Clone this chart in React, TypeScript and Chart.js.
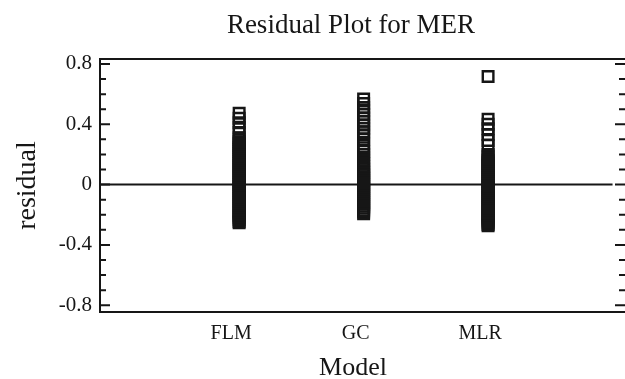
import React, { useEffect, useRef } from "react";
import { Chart, registerables } from "chart.js";

Chart.register(...registerables);

const TITLE = "Residual Plot for MER";
const X_TITLE = "Model";
const Y_TITLE = "residual";
const CATEGORIES = ["FLM", "GC", "MLR"];

const FLM_RESIDUALS = [
  0.473, 0.44, 0.41, 0.38, 0.345, 0.31,
  0.297, 0.284, 0.271, 0.259, 0.246, 0.232, 0.219, 0.207, 0.194, 0.181, 0.168, 0.155,
  0.142, 0.129, 0.117, 0.104, 0.091, 0.078, 0.065, 0.052, 0.039, 0.026, 0.013, 0.001,
  -0.012, -0.025, -0.038, -0.051, -0.064, -0.077, -0.09, -0.103, -0.116, -0.129, -0.142,
  -0.155, -0.168, -0.181, -0.194, -0.207, -0.22, -0.233, -0.244, -0.253,
];
const GC_RESIDUALS = [
  0.567, 0.538, 0.512, 0.488, 0.465, 0.442, 0.42, 0.396, 0.374, 0.35, 0.33, 0.3, 0.27,
  0.245, 0.22, 0.2, 0.18, 0.16, 0.14, 0.12,
  0.104, 0.091, 0.078, 0.065, 0.052, 0.039, 0.026, 0.013, 0.0, -0.013, -0.026, -0.039,
  -0.052, -0.065, -0.078, -0.091, -0.104, -0.117, -0.13, -0.143, -0.156, -0.169, -0.181, -0.193,
];
const MLR_RESIDUALS = [
  0.717, 0.433, 0.4, 0.37, 0.333, 0.293, 0.26, 0.2,
  0.188, 0.175, 0.162, 0.149, 0.136, 0.123, 0.11, 0.097, 0.084, 0.071, 0.058, 0.045,
  0.032, 0.019, 0.006, -0.007, -0.02, -0.033, -0.046, -0.059, -0.072, -0.085, -0.098,
  -0.111, -0.124, -0.137, -0.15, -0.163, -0.176, -0.189, -0.202, -0.215, -0.228, -0.241,
  -0.254, -0.265, -0.273,
];
const SERIES = [FLM_RESIDUALS, GC_RESIDUALS, MLR_RESIDUALS];

const Y_MAJOR_TICKS = [-0.8, -0.4, 0, 0.4, 0.8];
const Y_MINOR_TICKS = [-0.7, -0.6, -0.5, -0.3, -0.2, -0.1, 0.1, 0.2, 0.3, 0.5, 0.6, 0.7];
const ZERO_LINE_X = [-0.118, 4.0];

const INK = "#161616";
const FONT = '"Liberation Serif", "Times New Roman", serif';

const framePlugin = {
  id: "frame",
  afterDraw(chart: any) {
    const { ctx, chartArea, scales } = chart;
    const { left, right, top, bottom } = chartArea;
    const y = scales.y;
    ctx.save();
    ctx.strokeStyle = INK;
    ctx.lineWidth = 2;
    ctx.beginPath();
    ctx.moveTo(right + 2, top);
    ctx.lineTo(left, top);
    ctx.lineTo(left, bottom);
    ctx.lineTo(right + 2, bottom);
    ctx.stroke();
    const tick = (v: number, len: number) => {
      const py = y.getPixelForValue(v);
      ctx.beginPath();
      ctx.moveTo(left, py);
      ctx.lineTo(left + len, py);
      ctx.moveTo(right, py);
      ctx.lineTo(right - len, py);
      ctx.stroke();
    };
    Y_MAJOR_TICKS.forEach((v) => tick(v, 10));
    Y_MINOR_TICKS.forEach((v) => tick(v, 6));

    ctx.fillStyle = INK;
    ctx.textAlign = "center";
    ctx.textBaseline = "alphabetic";
    ctx.font = `27px ${FONT}`;
    ctx.fillText(TITLE, 351, 33);
    ctx.font = `26px ${FONT}`;
    ctx.fillText(X_TITLE, 353, 375);
    ctx.save();
    ctx.translate(35, (top + bottom) / 2);
    ctx.rotate(-Math.PI / 2);
    ctx.font = `28px ${FONT}`;
    ctx.fillText(Y_TITLE, 0, 0);
    ctx.restore();
    ctx.restore();
  },
};

export default function App() {
  const ref = useRef<HTMLCanvasElement>(null);
  useEffect(() => {
    if (!ref.current) return;
    const datasets: any[] = [
      {
        type: "line",
        data: ZERO_LINE_X.map((x) => ({ x, y: 0 })),
        borderColor: INK,
        borderWidth: 2,
        pointRadius: 0,
        order: 2,
      },
      ...SERIES.map((vals, i) => ({
        type: "scatter",
        data: vals.map((v) => ({ x: i + 1, y: v })),
        pointStyle: "rect",
        pointRadius: 7.5,
        borderWidth: 2.4,
        borderColor: INK,
        backgroundColor: "rgba(0,0,0,0)",
        order: 1,
      })),
    ];
    const chart = new Chart(ref.current, {
      type: "scatter",
      data: { datasets },
      options: {
        animation: false,
        responsive: false,
        devicePixelRatio: 1,
        layout: { autoPadding: false, padding: { top: 59, left: 0, right: 0, bottom: 0 } },
        plugins: { legend: { display: false }, tooltip: { enabled: false }, title: { display: false } },
        scales: {
          x: {
            type: "linear",
            min: -0.118,
            max: 4.1,
            grid: { display: false, drawTicks: false },
            border: { display: false },
            afterBuildTicks: (s: any) => {
              s.ticks = CATEGORIES.map((_, i) => ({ value: i + 1 }));
            },
            afterFit: (s: any) => {
              s.height = 67;
            },
            ticks: {
              padding: 10,
              labelOffset: -8,
              color: INK,
              font: { family: FONT, size: 20 },
              callback: (v: any) => CATEGORIES[Math.round(Number(v)) - 1] ?? "",
              maxRotation: 0,
            },
          },
          y: {
            type: "linear",
            min: -0.845,
            max: 0.833,
            grid: { display: false, drawTicks: false },
            border: { display: false },
            afterBuildTicks: (s: any) => {
              s.ticks = Y_MAJOR_TICKS.map((v) => ({ value: v }));
            },
            afterFit: (s: any) => {
              s.width = 100;
            },
            ticks: {
              padding: 8,
              color: INK,
              font: { family: FONT, size: 21 },
              callback: (v: any) => String(Number(v)),
            },
          },
        },
      },
      plugins: [framePlugin],
    } as any);
    return () => chart.destroy();
  }, []);
  return (
    <div style={{ position: "fixed", left: 0, top: 0, width: 625, height: 379, overflow: "hidden", background: "#fff" }}>
      <canvas ref={ref} width={625} height={379} style={{ display: "block" }} />
    </div>
  );
}
